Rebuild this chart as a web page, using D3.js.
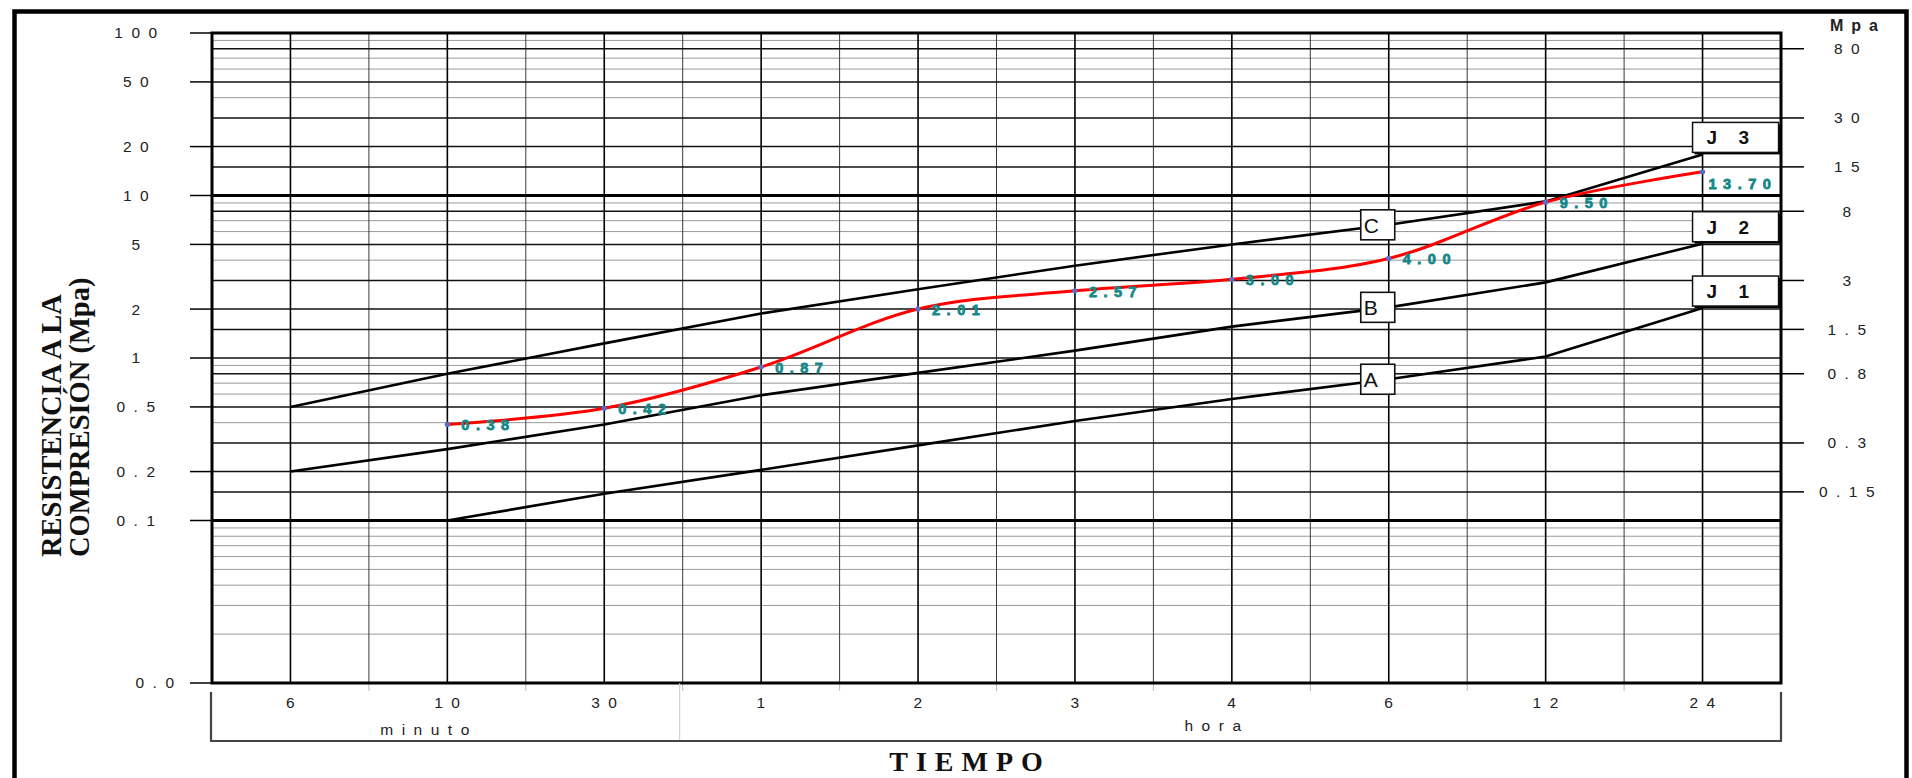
<!DOCTYPE html>
<html lang="es">
<meta charset="utf-8">
<title>Resistencia a la compresión vs tiempo</title>
<style>
  body { margin: 0; background: #fff; }
  svg { display: block; }
  text { font-family: "Liberation Sans", Arial, sans-serif; }
  .serif { font-family: "Liberation Serif", "Times New Roman", serif; font-weight: bold; }
</style>
<body>
<div id="chartDiv"></div>
<script src="https://cdn.jsdelivr.net/npm/d3@7"></script>
<script>
// time categories on x, and what is printed under them
var categories = ["6 min", "10 min", "30 min", "1 h", "2 h", "3 h", "4 h", "6 h", "12 h", "24 h"];
var timeLabels = ["6", "10", "30", "1", "2", "3", "4", "6", "12", "24"];

// reference curves (Mpa), A starts at 10 min
var curveC = [0.5, 0.8, 1.23, 1.88, 2.65, 3.7, 5.0, 6.6, 9.2, 17.9];
var curveB = [0.2, 0.275, 0.39, 0.59, 0.81, 1.11, 1.56, 2.05, 2.92, 5.05];
var curveA = [null, 0.1, 0.146, 0.205, 0.29, 0.41, 0.56, 0.74, 1.02, 2.03];
var curveNames = ["C", "B", "A"];
var curveEnds = ["J 3", "J 2", "J 1"];

// measured strength (red line)
var testTimes = ["10 min", "30 min", "1 h", "2 h", "3 h", "4 h", "6 h", "12 h", "24 h"];
var testValues = [0.39, 0.49, 0.88, 2.0, 2.59, 3.05, 4.1, 9.1, 14.0];
var testLabels = ["0.38", "0.42", "0.87", "2.01", "2.57", "3.00", "4.00", "9.50", "13.70"];

// y ticks, left and right side
var leftTicks = [100, 50, 20, 10, 5, 2, 1, 0.5, 0.2, 0.1, 0.01];
var leftTickLabels = ["100", "50", "20", "10", "5", "2", "1", "0.5", "0.2", "0.1", "0.0"];
var rightTicks = [80, 30, 15, 8, 3, 1.5, 0.8, 0.3, 0.15];
var rightTickLabels = ["80", "30", "15", "8", "3", "1.5", "0.8", "0.3", "0.15"];

// log paper: steps inside each decade
var decades = [0.1, 1, 10];
var darkSteps = [1.5, 2, 3, 5, 8];
var lightSteps = [4, 6, 7, 9];
var lowDecadeSteps = [2, 3, 4, 5, 6, 7, 8, 9];
var heavyLines = [10, 0.1];

var W = 1912, H = 778;
var svg = d3.select("#chartDiv").append("svg").attr("width", W).attr("height", H);

var x = d3.scalePoint().domain(categories).range([212, 1781]).padding(0.5);
var y = d3.scaleLog().domain([0.01, 100]).range([683, 33]);
var half = x.step() / 2;
var x0 = x.range()[0], x1 = x.range()[1];

// outer frame
svg.append("rect").attr("x", 14.5).attr("y", 11.5).attr("width", 1892).attr("height", 820)
  .attr("fill", "none").attr("stroke", "#000").attr("stroke-width", 4.5);

// horizontal grid
var lightVals = [], darkVals = [1];
lowDecadeSteps.forEach(function(s) { lightVals.push(s * 0.01); });
decades.forEach(function(d) {
  lightSteps.forEach(function(s) { lightVals.push(s * d); });
  darkSteps.forEach(function(s) { darkVals.push(s * d); });
});

var grid = svg.append("g");
function hLines(vals, color, width) {
  grid.selectAll(null).data(vals).enter().append("line")
    .attr("x1", x0).attr("x2", x1)
    .attr("y1", function(d) { return y(d); }).attr("y2", function(d) { return y(d); })
    .attr("stroke", color).attr("stroke-width", width);
}
hLines(lightVals, "#9a9a9a", 1);

// vertical grid: one line on every time, one between
var vPos = d3.range(1, 20).map(function(k) { return x0 + k * half; });
grid.selectAll(null).data(vPos).enter().append("line")
  .attr("x1", function(d) { return d; }).attr("x2", function(d) { return d; })
  .attr("y1", y(100)).attr("y2", y(0.01))
  .attr("stroke", function(d, i) { return i % 2 === 0 ? "#000" : "#3a3a3a"; })
  .attr("stroke-width", function(d, i) { return i % 2 === 0 ? 1.6 : 1; });

hLines(darkVals, "#111", 1.5);
hLines(heavyLines, "#000", 3);

// little marks under the plot on the in-between lines
grid.selectAll(null).data(vPos.filter(function(d, i) { return i % 2 === 1; })).enter().append("line")
  .attr("x1", function(d) { return d; }).attr("x2", function(d) { return d; })
  .attr("y1", y(0.01)).attr("y2", y(0.01) + 8)
  .attr("stroke", "#bbb").attr("stroke-width", 1);

// plot border
svg.append("rect").attr("x", x0).attr("y", y(100)).attr("width", x1 - x0).attr("height", y(0.01) - y(100))
  .attr("fill", "none").attr("stroke", "#000").attr("stroke-width", 3);

// left ticks and labels
svg.selectAll(null).data(leftTicks).enter().append("line")
  .attr("x1", 190).attr("x2", x0)
  .attr("y1", function(d) { return y(d); }).attr("y2", function(d) { return y(d); })
  .attr("stroke", "#000").attr("stroke-width", 1.5);
svg.selectAll(null).data(leftTicks).enter().append("text")
  .attr("x", function(d) { return d === 0.01 ? 159 : 140; })
  .attr("y", function(d) { return y(d); }).attr("dy", "0.35em")
  .attr("text-anchor", "middle").attr("font-size", 15.5).attr("letter-spacing", 8.5).attr("fill", "#222")
  .text(function(d, i) { return leftTickLabels[i]; });

// right ticks and labels
svg.selectAll(null).data(rightTicks).enter().append("line")
  .attr("x1", x1).attr("x2", 1804)
  .attr("y1", function(d) { return y(d); }).attr("y2", function(d) { return y(d); })
  .attr("stroke", "#000").attr("stroke-width", 1.5);
svg.selectAll(null).data(rightTicks).enter().append("text")
  .attr("x", 1851).attr("y", function(d) { return y(d); }).attr("dy", "0.35em")
  .attr("text-anchor", "middle").attr("font-size", 15.5).attr("letter-spacing", 8.5).attr("fill", "#222")
  .text(function(d, i) { return rightTickLabels[i]; });
svg.append("text").attr("x", 1858).attr("y", 31).attr("text-anchor", "middle")
  .attr("font-size", 16).attr("font-weight", "bold").attr("letter-spacing", 8).attr("fill", "#222")
  .text("Mpa");

// x labels and the minuto / hora bracket
svg.selectAll(null).data(categories).enter().append("text")
  .attr("x", function(d) { return x(d) + 4; }).attr("y", 708)
  .attr("text-anchor", "middle").attr("font-size", 15.5).attr("letter-spacing", 8.5).attr("fill", "#222")
  .text(function(d, i) { return timeLabels[i]; });
svg.append("path")
  .attr("d", "M" + (x0 - 1) + ",692V741H" + x1 + "V692")
  .attr("fill", "none").attr("stroke", "#444").attr("stroke-width", 2.2);
svg.append("line").attr("x1", x("30 min") + half - 3).attr("x2", x("30 min") + half - 3)
  .attr("y1", y(0.01)).attr("y2", 740).attr("stroke", "#c8c8c8").attr("stroke-width", 1);
svg.append("text").attr("x", 429).attr("y", 735).attr("text-anchor", "middle")
  .attr("font-size", 15.5).attr("letter-spacing", 8.5).attr("fill", "#222").text("minuto");
svg.append("text").attr("x", 1217).attr("y", 731).attr("text-anchor", "middle")
  .attr("font-size", 15.5).attr("letter-spacing", 8.5).attr("fill", "#222").text("hora");

// titles
svg.append("text").attr("class", "serif").attr("x", 970).attr("y", 771)
  .attr("text-anchor", "middle").attr("font-size", 28).attr("letter-spacing", 8).attr("fill", "#111")
  .text("TIEMPO");
svg.append("text").attr("class", "serif").attr("transform", "translate(61,557) rotate(-90)")
  .attr("font-size", 28.5).attr("fill", "#111").text("RESISTENCIA A LA");
svg.append("text").attr("class", "serif").attr("transform", "translate(89,557) rotate(-90)")
  .attr("font-size", 28.5).attr("fill", "#111").text("COMPRESIÓN (Mpa)");

// reference curves
var curves = [curveC, curveB, curveA];
var straight = d3.line()
  .defined(function(d) { return d != null; })
  .x(function(d, i) { return x(categories[i]); })
  .y(function(d) { return y(d); });
svg.selectAll(null).data(curves).enter().append("path")
  .attr("d", straight).attr("fill", "none").attr("stroke", "#000").attr("stroke-width", 2.6);

// C / B / A boxes at 6 h
var iBox = categories.indexOf("6 h");
curves.forEach(function(c, k) {
  var bx = x("6 h") - 28, by = y(c[iBox]) - 15;
  svg.append("rect").attr("x", bx).attr("y", by).attr("width", 34).attr("height", 30)
    .attr("fill", "#fff").attr("stroke", "#111").attr("stroke-width", 1.6);
  svg.append("text").attr("x", bx + 3).attr("y", by + 23).attr("font-size", 21).attr("fill", "#111")
    .text(curveNames[k]);
});

// J boxes at the end of each curve
var iEnd = categories.length - 1;
curves.forEach(function(c, k) {
  var bx = x(categories[iEnd]) - 10, by = y(c[iEnd]) - 32;
  svg.append("rect").attr("x", bx + 2).attr("y", by + 2).attr("width", 86).attr("height", 30).attr("fill", "#000");
  svg.append("rect").attr("x", bx).attr("y", by).attr("width", 86).attr("height", 30)
    .attr("fill", "#fff").attr("stroke", "#111").attr("stroke-width", 1.5);
  svg.append("text").attr("x", bx + 14).attr("y", by + 22).attr("font-size", 19).attr("font-weight", "bold")
    .attr("letter-spacing", 8).attr("fill", "#111").text(curveEnds[k]);
});

// measured line
var smooth = d3.line()
  .x(function(d, i) { return x(testTimes[i]); })
  .y(function(d) { return y(d); })
  .curve(d3.curveCatmullRom.alpha(0.5));
svg.append("path").datum(testValues).attr("d", smooth)
  .attr("fill", "none").attr("stroke", "#ff0000").attr("stroke-width", 3);
svg.selectAll(null).data(testValues).enter().append("circle")
  .attr("cx", function(d, i) { return x(testTimes[i]); }).attr("cy", function(d) { return y(d); })
  .attr("r", 2.6).attr("fill", "#5a6cc4");
// heavy teal values (the original looks like a black-weight face)
svg.selectAll(null).data(testValues).enter().append("text")
  .attr("x", function(d, i) { return x(testTimes[i]) + (i === testValues.length - 1 ? 6 : 14); })
  .attr("y", function(d, i) { return y(d) + (i === testValues.length - 1 ? 17 : 6); })
  .attr("font-family", "'DejaVu Sans', sans-serif")
  .attr("font-size", 14.5).attr("font-weight", "bold").attr("letter-spacing", 6.5)
  .attr("fill", "#148888").attr("stroke", "#148888").attr("stroke-width", 0.8)
  .text(function(d, i) { return testLabels[i]; });
</script>
</body>
</html>
